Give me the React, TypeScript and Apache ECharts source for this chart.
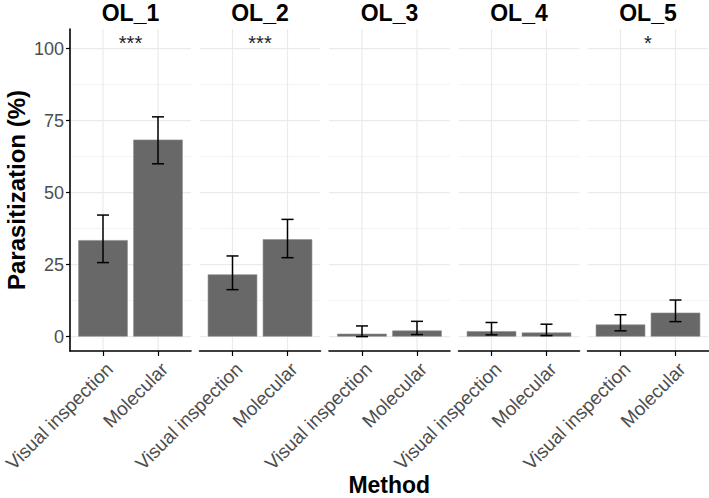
import React, { useEffect, useRef } from "react";
import * as echarts from "echarts";

const panels = ["OL_1", "OL_2", "OL_3", "OL_4", "OL_5"];
const categories = ["Visual inspection", "Molecular"];
const visualMean = [33.5, 21.6, 1.0, 1.9, 4.2];
const visualLow = [25.7, 16.3, 0.0, 0.6, 2.0];
const visualHigh = [42.2, 28.0, 3.7, 4.9, 7.6];
const molecularMean = [68.4, 33.8, 2.1, 1.4, 8.3];
const molecularLow = [60.0, 27.4, 0.7, 0.35, 5.2];
const molecularHigh = [76.3, 40.7, 5.3, 4.3, 12.7];
const significance = ["***", "***", "", "", "*"];
const yTicks = [0, 25, 50, 75, 100];
const yMinorTicks = [12.5, 37.5, 62.5, 87.5];
const xPositions = [1, 2];

const FONT = "Liberation Sans, Arial, Helvetica, sans-serif";
const W = 709;
const H = 498;
const GRID_TOP = 29;
const GRID_H = 322;
const PANEL_W = 121;
const PANEL_LEFTS = [70, 199.5, 329, 458.5, 587.5];
const X_MIN = 0.4;
const X_MAX = 2.6;
const Y_MIN = -5;
const Y_MAX = 106.8;
const LABEL_SHIFT = 0.12;

export default function App() {
  const ref = useRef<HTMLDivElement>(null);

  useEffect(() => {
    if (!ref.current) return;
    const chart = echarts.init(ref.current, null, { renderer: "svg" });

    const grids: any[] = [];
    const xAxes: any[] = [];
    const yAxes: any[] = [];
    const series: any[] = [];
    const graphics: any[] = [];

    panels.forEach((name, i) => {
      grids.push({ left: PANEL_LEFTS[i], top: GRID_TOP, width: PANEL_W, height: GRID_H });
      xAxes.push({
        type: "value",
        gridIndex: i,
        min: X_MIN,
        max: X_MAX,
        position: "bottom",
        axisLine: { show: true, onZero: false, lineStyle: { color: "#000", width: 1.6 } },
        axisTick: { show: true, customValues: xPositions, length: 5, lineStyle: { color: "#000", width: 1.2 } },
        axisLabel: { show: false },
        splitLine: { show: false },
      });
      xAxes.push({
        type: "value",
        gridIndex: i,
        min: X_MIN - LABEL_SHIFT,
        max: X_MAX - LABEL_SHIFT,
        position: "bottom",
        offset: 0,
        axisLine: { show: false },
        axisTick: { show: false },
        splitLine: { show: false },
        axisLabel: {
          show: true,
          customValues: xPositions,
          rotate: 45,
          margin: 15,
          fontSize: 19,
          color: "#4d4d4d",
          fontFamily: FONT,
          formatter: (v: number) => categories[Math.round(v) - 1] || "",
        },
      });
      yAxes.push({
        type: "value",
        gridIndex: i,
        min: Y_MIN,
        max: Y_MAX,
        axisLine: { show: i === 0, onZero: false, lineStyle: { color: "#000", width: 1.6 } },
        axisTick: { show: i === 0, customValues: yTicks, length: 4, lineStyle: { color: "#000", width: 1.2 } },
        axisLabel: {
          show: i === 0,
          customValues: yTicks,
          margin: 6,
          fontSize: 18,
          color: "#4d4d4d",
          fontFamily: FONT,
        },
        splitLine: { show: false },
      });

      const xi = i * 2;
      series.push({
        type: "custom",
        xAxisIndex: xi,
        yAxisIndex: i,
        silent: true,
        z: 0,
        data: [...yTicks.map((v) => [1, v, 1]), ...yMinorTicks.map((v) => [1, v, 0])],
        renderItem: (params: any, api: any) => {
          const cs = params.coordSys;
          const y = api.coord([1, api.value(1)])[1];
          return {
            type: "line",
            shape: { x1: cs.x, y1: y, x2: cs.x + cs.width, y2: y },
            style: { stroke: api.value(2) ? "#ebebeb" : "#f2f2f2", lineWidth: api.value(2) ? 1.2 : 0.9 },
          };
        },
      });
      series.push({
        type: "custom",
        xAxisIndex: xi,
        yAxisIndex: i,
        silent: true,
        z: 0,
        data: xPositions.map((x) => [x, 0]),
        renderItem: (params: any, api: any) => {
          const cs = params.coordSys;
          const x = api.coord([api.value(0), 0])[0];
          return {
            type: "line",
            shape: { x1: x, y1: cs.y, x2: x, y2: cs.y + cs.height },
            style: { stroke: "#ebebeb", lineWidth: 1.2 },
          };
        },
      });
      series.push({
        type: "bar",
        xAxisIndex: xi,
        yAxisIndex: i,
        barWidth: 49.5,
        z: 2,
        itemStyle: { color: "#686868", borderColor: "#8c8c8c", borderWidth: 0.6 },
        data: [
          [xPositions[0], visualMean[i]],
          [xPositions[1], molecularMean[i]],
        ],
      });
      series.push({
        type: "custom",
        xAxisIndex: xi,
        yAxisIndex: i,
        z: 3,
        clip: false,
        data: [
          [xPositions[0], visualLow[i], visualHigh[i]],
          [xPositions[1], molecularLow[i], molecularHigh[i]],
        ],
        renderItem: (params: any, api: any) => {
          const x = api.value(0);
          const lo = api.coord([x, api.value(1)]);
          const hi = api.coord([x, api.value(2)]);
          const hw = 6;
          const st = { stroke: "#000", lineWidth: 1.5 };
          return {
            type: "group",
            children: [
              { type: "line", shape: { x1: lo[0], y1: lo[1], x2: hi[0], y2: hi[1] }, style: st },
              { type: "line", shape: { x1: lo[0] - hw, y1: lo[1], x2: lo[0] + hw, y2: lo[1] }, style: st },
              { type: "line", shape: { x1: hi[0] - hw, y1: hi[1], x2: hi[0] + hw, y2: hi[1] }, style: st },
            ],
          };
        },
      });
      if (significance[i]) {
        series.push({
          type: "custom",
          xAxisIndex: xi,
          yAxisIndex: i,
          z: 4,
          clip: false,
          data: [[1.5, 102, significance[i]]],
          renderItem: (params: any, api: any) => {
            const p = api.coord([api.value(0), api.value(1)]);
            return {
              type: "text",
              x: p[0],
              y: p[1],
              style: {
                text: significance[i],
                fontSize: 20,
                fontFamily: FONT,
                fill: "#222",
                align: "center",
                verticalAlign: "middle",
              },
            };
          },
        });
      }
      graphics.push({
        type: "text",
        x: PANEL_LEFTS[i] + PANEL_W / 2,
        y: 13,
        style: {
          text: name,
          fontSize: 23,
          fontWeight: "bold",
          fontFamily: FONT,
          fill: "#000",
          align: "center",
          verticalAlign: "middle",
        },
      });
    });

    graphics.push({
      type: "text",
      x: (PANEL_LEFTS[0] + PANEL_LEFTS[4] + PANEL_W) / 2,
      y: 485,
      style: {
        text: "Method",
        fontSize: 23,
        fontWeight: "bold",
        fontFamily: FONT,
        fill: "#000",
        align: "center",
        verticalAlign: "middle",
      },
    });
    graphics.push({
      type: "text",
      x: 16,
      y: 190,
      rotation: Math.PI / 2,
      style: {
        text: "Parasitization (%)",
        fontSize: 24,
        fontWeight: "bold",
        fontFamily: FONT,
        fill: "#000",
        align: "center",
        verticalAlign: "middle",
      },
    });

    chart.setOption({
      animation: false,
      backgroundColor: "#fff",
      grid: grids,
      xAxis: xAxes,
      yAxis: yAxes,
      series,
      graphic: graphics,
    });

    return () => chart.dispose();
  }, []);

  return (
    <div
      ref={ref}
      style={{ position: "fixed", left: 0, top: 0, width: W, height: H, background: "#fff" }}
    />
  );
}
